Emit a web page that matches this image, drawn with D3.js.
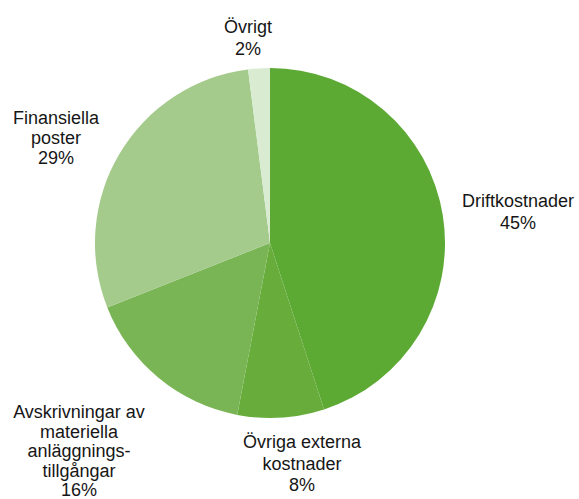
<!DOCTYPE html>
<html>
<head>
<meta charset="utf-8">
<script src="https://cdn.jsdelivr.net/npm/d3@7"></script>
<style>
  body { margin: 0; background: #fff; }
  text { font-family: "Liberation Sans", Arial, sans-serif; fill: #161616; }
</style>
</head>
<body>
<div id="chart"></div>
<script>
// data
const categories = ["Driftkostnader", "Övriga externa kostnader", "Avskrivningar av materiella anläggningstillgångar", "Finansiella poster", "Övrigt"];
const values = [45, 8, 16, 29, 2];
const labelLines = [
    ["Driftkostnader"],
    ["Övriga externa", "kostnader"],
    ["Avskrivningar av", "materiella", "anläggnings-", "tillgångar"],
    ["Finansiella", "poster"],
    ["Övrigt"]
];
const colors = ["#5caa34", "#68ad3c", "#7ab555", "#a4cb8b", "#d9ebd1"];

const width = 579, height = 499;
const cx = 270, cy = 243, radius = 175;

// label anchor (center x, first baseline y) per slice, plus line height
const labelAnchor = [[518, 207], [302, 448], [79, 418], [56, 124], [248, 33]];
const lineH = [22, 21.5, 19.5, 20, 21.5];

let svg = d3.select("#chart")
    .append("svg")
    .attr("width", width)
    .attr("height", height);

let g = svg.append("g")
    .attr("transform", `translate(${cx},${cy})`);

let pie = d3.pie().sort(null).value(d => d);
let arc = d3.arc().innerRadius(0).outerRadius(radius);

let arcs = pie(values);

g.selectAll("path")
    .data(arcs)
    .enter()
    .append("path")
    .attr("d", arc)
    .attr("fill", (d, i) => colors[i]);

// labels
arcs.forEach(function(d, i) {
    let lines = labelLines[i].concat([values[i] + "%"]);
    let t = svg.append("text")
        .attr("text-anchor", "middle")
        .style("font-size", "18px");
    lines.forEach(function(l, j) {
        t.append("tspan")
            .attr("x", labelAnchor[i][0])
            .attr("y", labelAnchor[i][1] + j * lineH[i])
            .text(l);
    });
});
</script>
</body>
</html>
